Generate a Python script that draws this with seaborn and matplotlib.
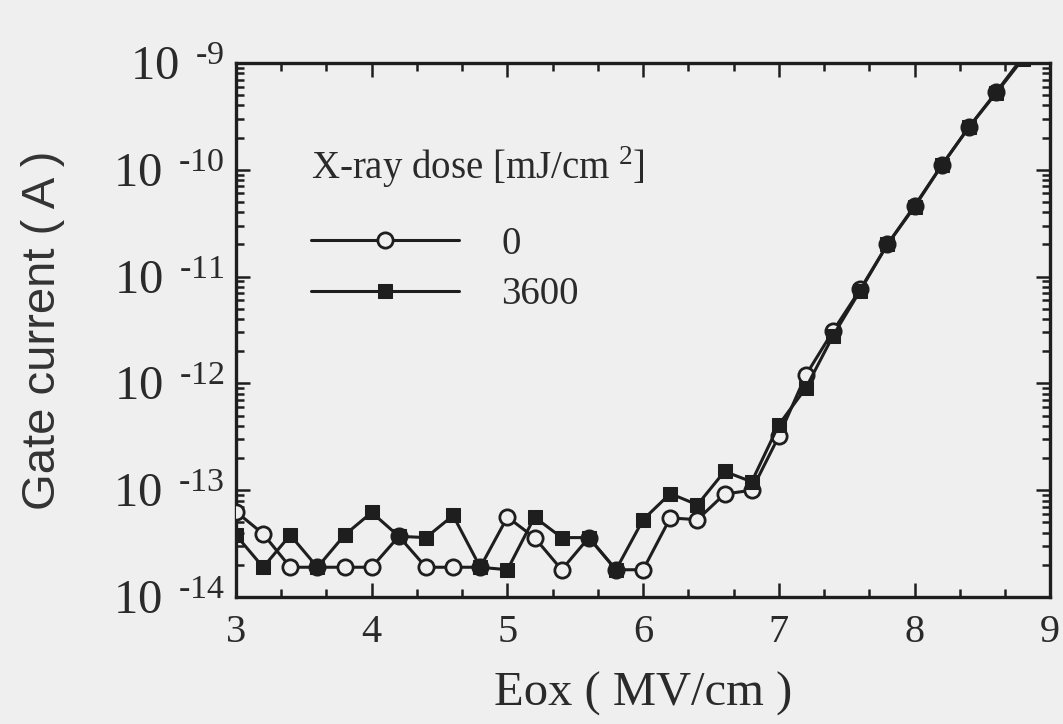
import numpy as np
import pandas as pd
import seaborn as sns
from matplotlib import pyplot as plt
from matplotlib.ticker import FixedLocator, LogLocator, NullFormatter

# Eox (MV/cm)
eox = [3.0, 3.2, 3.4, 3.6, 3.8, 4.0, 4.2, 4.4, 4.6, 4.8,
       5.0, 5.2, 5.4, 5.6, 5.8, 6.0, 6.2, 6.4, 6.6, 6.8,
       7.0, 7.2, 7.4, 7.6, 7.8, 8.0, 8.2, 8.4, 8.6, 8.8]

# gate current (A), dose 0
ig_0 = [6.3e-14, 3.9e-14, 1.9e-14, 1.9e-14, 1.9e-14, 1.9e-14, 3.7e-14, 1.9e-14, 1.9e-14, 1.9e-14,
        5.6e-14, 3.6e-14, 1.8e-14, 3.6e-14, 1.8e-14, 1.8e-14, 5.5e-14, 5.3e-14, 9.2e-14, 1.0e-13,
        3.2e-13, 1.2e-12, 3.1e-12, 7.6e-12, 2.0e-11, 4.6e-11, 1.1e-10, 2.5e-10, 5.3e-10, 1.15e-9]

# gate current (A), dose 3600
ig_3600 = [3.8e-14, 1.9e-14, 3.8e-14, 1.9e-14, 3.8e-14, 6.2e-14, 3.7e-14, 3.6e-14, 5.8e-14, 1.9e-14,
           1.8e-14, 5.6e-14, 3.6e-14, 3.6e-14, 1.8e-14, 5.3e-14, 9.3e-14, 7.3e-14, 1.5e-13, 1.2e-13,
           4.1e-13, 9.1e-13, 2.8e-12, 7.4e-12, 2.0e-11, 4.5e-11, 1.1e-10, 2.5e-10, 5.2e-10, 1.1e-9]

doses = ['0', '3600']
xticks = [3, 4, 5, 6, 7, 8, 9]
yticks = [1e-14, 1e-13, 1e-12, 1e-11, 1e-10, 1e-9]
yexp = ['-14', '-13', '-12', '-11', '-10', '-9']

bg = '#efefef'
ink = '#1e1e1e'

sns.set_style('ticks')
plt.rcParams['font.family'] = ['Liberation Serif', 'DejaVu Serif']
plt.rcParams['mathtext.fontset'] = 'custom'
plt.rcParams['mathtext.rm'] = 'Liberation Serif'

fig = plt.figure(figsize=(10.63, 7.24), dpi=100, facecolor=bg)
ax = fig.add_axes([0.222, 0.1754, 0.766, 0.7376])
ax.set_facecolor(bg)

df0 = pd.DataFrame({'Eox': eox, 'I': ig_0})
df1 = pd.DataFrame({'Eox': eox, 'I': ig_3600})

sns.lineplot(data=df0, x='Eox', y='I', ax=ax, color=ink, lw=2.2, marker='o', ms=11,
             markerfacecolor=bg, markeredgecolor=ink, markeredgewidth=2, label=doses[0], zorder=3)
sns.lineplot(data=df1, x='Eox', y='I', ax=ax, color=ink, lw=2.2, marker='s', ms=10.5,
             markerfacecolor=ink, markeredgecolor=ink, label=doses[1], zorder=4)

ax.set_yscale('log')
ax.set_xlim(3, 9)
ax.set_ylim(1e-14, 1e-9)

ax.xaxis.set_major_locator(FixedLocator(xticks))
ax.xaxis.set_minor_locator(FixedLocator(np.arange(3, 9.01, 1 / 3)))
ax.set_xticklabels([str(t) for t in xticks], fontsize=29, color='#2a2a2a')
ax.yaxis.set_major_locator(FixedLocator(yticks))
ax.yaxis.set_minor_locator(LogLocator(base=10, subs=np.arange(2, 10)))
ax.yaxis.set_minor_formatter(NullFormatter())
ax.set_yticklabels([r'$\mathregular{10^{\ \,\text{%s}}}$' % e for e in yexp], fontsize=35, color='#2a2a2a')
for lab in ax.get_yticklabels():
    lab.set_verticalalignment('center_baseline')

ax.tick_params(which='both', direction='in', top=True, right=True, color=ink, width=1.8)
ax.tick_params(axis='x', which='major', length=10, pad=12)
ax.tick_params(axis='y', which='major', length=10, pad=8)
ax.tick_params(which='minor', length=6)
for s in ax.spines.values():
    s.set_linewidth(2.4)
    s.set_color(ink)

ax.set_xlabel('Eox ( MV/cm )', fontsize=35, color='#2a2a2a', labelpad=15)
ax.set_ylabel('Gate current ( A )', fontsize=34, color='#333333', family='Liberation Sans', labelpad=34)

leg = ax.legend(title=r'X-ray dose [mJ/cm$^{\mathregular{\ 2}}$]', loc='upper left',
                bbox_to_anchor=(0.068, 0.885), frameon=False, fontsize=28, borderpad=0,
                title_fontsize=28, handlelength=3.8, handletextpad=1.1,
                labelspacing=0.35, alignment='left')
leg._legend_box.sep = 26
for t in leg.get_texts():
    t.set_color('#2a2a2a')
leg.get_title().set_color('#2a2a2a')

fig.savefig('out.png', dpi=100, facecolor=bg)
